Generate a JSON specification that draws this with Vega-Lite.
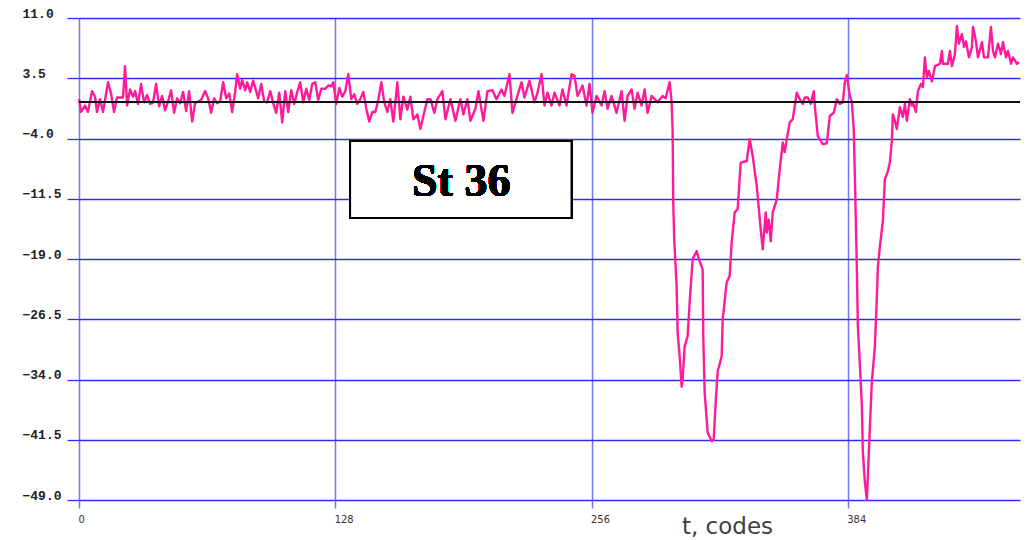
{
  "$schema": "https://vega.github.io/schema/vega-lite/v6.json",
  "width": 941,
  "height": 482,
  "autosize": {"type": "none"},
  "padding": {"left": 79, "top": 18, "right": 15, "bottom": 40},
  "background": "white",
  "config": {"view": {"stroke": null}},
  "data": {
    "values": [
      {"t": 0.0, "v": 0.9}, {"t": 1.0, "v": -0.7}, {"t": 3.0, "v": 0.1}, {"t": 4.5, "v": -0.7},
      {"t": 6.5, "v": 1.9}, {"t": 8.0, "v": 1.2}, {"t": 9.0, "v": -0.7}, {"t": 10.5, "v": 0.9},
      {"t": 12.0, "v": -0.7}, {"t": 14.5, "v": 3.0}, {"t": 16.0, "v": 1.6}, {"t": 17.5, "v": -0.7},
      {"t": 19.0, "v": 1.1}, {"t": 22.0, "v": 1.1}, {"t": 23.0, "v": 5.0}, {"t": 24.0, "v": 0.1},
      {"t": 25.5, "v": 2.1}, {"t": 27.0, "v": 1.2}, {"t": 28.0, "v": 1.9}, {"t": 29.5, "v": 0.3},
      {"t": 31.0, "v": 2.8}, {"t": 32.5, "v": 0.5}, {"t": 34.0, "v": 1.4}, {"t": 35.5, "v": 0.3},
      {"t": 37.0, "v": 0.5}, {"t": 38.5, "v": 2.8}, {"t": 40.0, "v": 0.0}, {"t": 41.5, "v": 1.3},
      {"t": 43.0, "v": -0.5}, {"t": 44.5, "v": 0.6}, {"t": 46.0, "v": 2.0}, {"t": 47.5, "v": -0.8},
      {"t": 49.0, "v": 1.0}, {"t": 50.5, "v": 0.4}, {"t": 52.0, "v": 1.8}, {"t": 53.5, "v": -0.6},
      {"t": 55.0, "v": 1.9}, {"t": 56.5, "v": -1.9}, {"t": 58.0, "v": 0.4}, {"t": 59.5, "v": 0.6},
      {"t": 61.0, "v": 0.8}, {"t": 63.0, "v": 1.9}, {"t": 64.5, "v": 1.0}, {"t": 66.0, "v": -0.8},
      {"t": 67.5, "v": 1.0}, {"t": 69.0, "v": 0.4}, {"t": 70.5, "v": 0.6}, {"t": 72.0, "v": 3.0},
      {"t": 73.5, "v": 1.0}, {"t": 75.0, "v": 1.6}, {"t": 76.5, "v": -0.7}, {"t": 78.0, "v": 1.8},
      {"t": 79.0, "v": 4.0}, {"t": 80.5, "v": 2.2}, {"t": 81.5, "v": 3.3}, {"t": 83.0, "v": 2.0},
      {"t": 84.0, "v": 3.0}, {"t": 85.5, "v": 1.8}, {"t": 87.0, "v": 3.2}, {"t": 89.5, "v": 1.0},
      {"t": 91.0, "v": 2.8}, {"t": 92.5, "v": 0.6}, {"t": 94.0, "v": 0.5}, {"t": 95.5, "v": 1.9},
      {"t": 97.0, "v": 0.4}, {"t": 98.5, "v": -0.8}, {"t": 100.0, "v": 1.7}, {"t": 101.5, "v": -2.0},
      {"t": 103.0, "v": 1.9}, {"t": 104.5, "v": -0.7}, {"t": 106.0, "v": 2.0}, {"t": 107.5, "v": 0.3},
      {"t": 109.0, "v": 1.8}, {"t": 110.5, "v": 3.0}, {"t": 112.0, "v": 0.5}, {"t": 113.5, "v": 2.2},
      {"t": 115.0, "v": 0.8}, {"t": 116.5, "v": 2.8}, {"t": 118.0, "v": 3.0}, {"t": 119.5, "v": 0.8},
      {"t": 121.0, "v": 2.2}, {"t": 123.0, "v": 2.2}, {"t": 124.5, "v": 2.6}, {"t": 126.0, "v": 2.5},
      {"t": 127.0, "v": 3.0}, {"t": 128.5, "v": 0.3}, {"t": 130.0, "v": 2.3}, {"t": 131.5, "v": 1.2},
      {"t": 133.0, "v": 1.9}, {"t": 134.5, "v": 4.0}, {"t": 136.0, "v": 0.9}, {"t": 137.5, "v": 1.5},
      {"t": 139.0, "v": 0.3}, {"t": 140.5, "v": 0.9}, {"t": 142.0, "v": 1.8}, {"t": 143.5, "v": -0.3},
      {"t": 145.0, "v": -1.9}, {"t": 146.5, "v": -0.7}, {"t": 148.0, "v": -0.7}, {"t": 149.5, "v": 0.8},
      {"t": 151.0, "v": 3.0}, {"t": 152.5, "v": 0.5}, {"t": 154.0, "v": -0.7}, {"t": 155.5, "v": 0.9},
      {"t": 157.0, "v": -1.9}, {"t": 159.0, "v": 3.0}, {"t": 160.5, "v": -1.6}, {"t": 162.0, "v": 1.2},
      {"t": 164.0, "v": -0.4}, {"t": 165.5, "v": 1.2}, {"t": 167.0, "v": -1.6}, {"t": 169.0, "v": -1.0},
      {"t": 170.5, "v": -2.8}, {"t": 172.0, "v": -1.2}, {"t": 174.0, "v": 0.9}, {"t": 175.5, "v": 0.9},
      {"t": 177.5, "v": -0.8}, {"t": 179.0, "v": 0.9}, {"t": 181.5, "v": 1.9}, {"t": 183.0, "v": -1.6},
      {"t": 185.5, "v": 0.9}, {"t": 188.0, "v": -1.8}, {"t": 190.5, "v": 0.9}, {"t": 192.0, "v": -1.0},
      {"t": 194.0, "v": 0.9}, {"t": 195.5, "v": -1.8}, {"t": 198.0, "v": -0.3}, {"t": 199.5, "v": 1.9},
      {"t": 202.0, "v": -1.8}, {"t": 204.0, "v": 1.9}, {"t": 206.5, "v": 2.0}, {"t": 208.5, "v": 0.9},
      {"t": 211.0, "v": 2.1}, {"t": 212.5, "v": 1.3}, {"t": 215.0, "v": 4.0}, {"t": 216.5, "v": -0.8},
      {"t": 218.5, "v": 0.9}, {"t": 221.0, "v": 3.0}, {"t": 222.5, "v": 1.1}, {"t": 225.0, "v": 3.2},
      {"t": 227.5, "v": 0.5}, {"t": 229.0, "v": 1.7}, {"t": 231.0, "v": 4.0}, {"t": 232.5, "v": 0.1},
      {"t": 234.0, "v": 1.7}, {"t": 236.0, "v": 0.1}, {"t": 237.5, "v": 1.7}, {"t": 240.0, "v": 0.1},
      {"t": 241.5, "v": 2.1}, {"t": 243.5, "v": 0.1}, {"t": 246.0, "v": 4.0}, {"t": 247.5, "v": 3.8},
      {"t": 249.0, "v": 1.3}, {"t": 251.5, "v": 2.6}, {"t": 253.5, "v": 0.1}, {"t": 255.0, "v": 2.8},
      {"t": 256.5, "v": -0.8}, {"t": 258.5, "v": 1.3}, {"t": 261.0, "v": 0.1}, {"t": 262.5, "v": 1.9},
      {"t": 264.0, "v": -0.3}, {"t": 266.0, "v": 1.3}, {"t": 268.5, "v": -0.8}, {"t": 271.0, "v": 1.9},
      {"t": 272.5, "v": -1.8}, {"t": 274.0, "v": 1.3}, {"t": 276.0, "v": 2.1}, {"t": 277.5, "v": -0.3},
      {"t": 279.0, "v": 1.7}, {"t": 281.0, "v": 0.1}, {"t": 282.5, "v": 2.1}, {"t": 284.0, "v": -0.8},
      {"t": 286.0, "v": 1.3}, {"t": 287.5, "v": 0.9}, {"t": 289.0, "v": 0.5}, {"t": 291.5, "v": 1.3},
      {"t": 293.0, "v": 1.0}, {"t": 295.0, "v": 3.0}, {"t": 296.0, "v": 0.5}, {"t": 296.5, "v": -3.1},
      {"t": 296.8, "v": -11.9}, {"t": 297.3, "v": -16.6}, {"t": 298.5, "v": -22.4}, {"t": 299.0, "v": -28.2},
      {"t": 300.0, "v": -31.1}, {"t": 301.0, "v": -34.9}, {"t": 301.5, "v": -34.0}, {"t": 302.5, "v": -29.9},
      {"t": 304.0, "v": -28.6}, {"t": 305.0, "v": -24.4}, {"t": 306.5, "v": -19.0}, {"t": 308.5, "v": -18.0},
      {"t": 310.0, "v": -19.3}, {"t": 311.5, "v": -20.3}, {"t": 311.8, "v": -28.6}, {"t": 312.5, "v": -35.6},
      {"t": 314.0, "v": -40.6}, {"t": 316.0, "v": -41.7}, {"t": 317.0, "v": -41.5}, {"t": 318.0, "v": -36.9},
      {"t": 319.0, "v": -33.0}, {"t": 321.0, "v": -31.1}, {"t": 321.5, "v": -26.5}, {"t": 323.5, "v": -21.9},
      {"t": 325.0, "v": -21.1}, {"t": 326.0, "v": -16.9}, {"t": 327.5, "v": -13.2}, {"t": 329.0, "v": -12.8},
      {"t": 330.5, "v": -7.0}, {"t": 333.5, "v": -6.8}, {"t": 335.0, "v": -4.1}, {"t": 336.5, "v": -6.2},
      {"t": 338.5, "v": -9.9}, {"t": 339.0, "v": -11.2}, {"t": 340.5, "v": -15.3}, {"t": 341.5, "v": -17.8},
      {"t": 342.0, "v": -16.2}, {"t": 343.0, "v": -13.2}, {"t": 343.5, "v": -15.7}, {"t": 344.5, "v": -14.1},
      {"t": 345.5, "v": -16.8}, {"t": 346.5, "v": -13.2}, {"t": 348.5, "v": -11.6}, {"t": 350.0, "v": -7.8},
      {"t": 351.5, "v": -4.5}, {"t": 352.5, "v": -5.7}, {"t": 353.5, "v": -4.1}, {"t": 355.0, "v": -2.0},
      {"t": 356.5, "v": -1.6}, {"t": 358.5, "v": 1.7}, {"t": 360.0, "v": 0.9}, {"t": 361.5, "v": 0.3},
      {"t": 362.5, "v": 1.1}, {"t": 364.0, "v": 1.1}, {"t": 365.5, "v": 0.3}, {"t": 367.0, "v": 1.9},
      {"t": 367.5, "v": 0.1}, {"t": 369.0, "v": -3.7}, {"t": 371.5, "v": -4.7}, {"t": 373.5, "v": -4.6},
      {"t": 375.0, "v": -1.2}, {"t": 377.0, "v": -0.8}, {"t": 378.5, "v": 0.9}, {"t": 380.0, "v": 0.3},
      {"t": 381.5, "v": 0.5}, {"t": 382.5, "v": 3.0}, {"t": 383.5, "v": 3.9}, {"t": 385.0, "v": 1.3},
      {"t": 386.0, "v": 0.6}, {"t": 387.0, "v": -3.1}, {"t": 387.5, "v": -8.5}, {"t": 388.5, "v": -20.0},
      {"t": 389.0, "v": -27.2}, {"t": 390.0, "v": -32.1}, {"t": 391.0, "v": -37.1}, {"t": 391.5, "v": -43.0},
      {"t": 392.5, "v": -46.7}, {"t": 393.5, "v": -49.0}, {"t": 394.0, "v": -46.2}, {"t": 395.0, "v": -40.0},
      {"t": 396.0, "v": -34.3}, {"t": 397.5, "v": -30.0}, {"t": 398.5, "v": -23.8}, {"t": 399.0, "v": -20.0},
      {"t": 400.0, "v": -17.5}, {"t": 401.5, "v": -14.3}, {"t": 402.5, "v": -9.1}, {"t": 404.0, "v": -8.1},
      {"t": 405.0, "v": -7.0}, {"t": 406.0, "v": -4.3}, {"t": 406.5, "v": -1.0}, {"t": 407.5, "v": -1.8},
      {"t": 408.5, "v": -2.8}, {"t": 410.0, "v": -0.1}, {"t": 411.5, "v": -1.3}, {"t": 412.5, "v": 0.3},
      {"t": 413.5, "v": -1.8}, {"t": 415.0, "v": 0.9}, {"t": 416.0, "v": 0.1}, {"t": 416.5, "v": 0.5},
      {"t": 418.0, "v": -0.7}, {"t": 419.0, "v": 1.9}, {"t": 420.5, "v": 2.8}, {"t": 421.5, "v": 2.4},
      {"t": 422.5, "v": 6.1}, {"t": 423.5, "v": 3.6}, {"t": 424.5, "v": 4.4}, {"t": 426.0, "v": 3.1},
      {"t": 427.5, "v": 5.0}, {"t": 430.0, "v": 5.3}, {"t": 431.0, "v": 6.9}, {"t": 431.5, "v": 5.3},
      {"t": 434.0, "v": 5.3}, {"t": 435.0, "v": 6.9}, {"t": 436.0, "v": 5.0}, {"t": 437.5, "v": 6.5},
      {"t": 438.5, "v": 10.0}, {"t": 439.5, "v": 7.8}, {"t": 441.0, "v": 9.0}, {"t": 442.0, "v": 7.4},
      {"t": 443.0, "v": 8.1}, {"t": 444.5, "v": 6.1}, {"t": 446.0, "v": 7.4}, {"t": 446.5, "v": 9.9},
      {"t": 448.0, "v": 8.1}, {"t": 449.0, "v": 6.1}, {"t": 451.0, "v": 8.0}, {"t": 452.0, "v": 6.1},
      {"t": 454.0, "v": 6.1}, {"t": 455.5, "v": 9.9}, {"t": 456.5, "v": 6.9}, {"t": 457.5, "v": 6.1},
      {"t": 459.0, "v": 7.8}, {"t": 460.5, "v": 6.5}, {"t": 461.5, "v": 8.0}, {"t": 463.0, "v": 6.1},
      {"t": 464.0, "v": 6.9}, {"t": 465.5, "v": 5.3}, {"t": 466.5, "v": 6.1}, {"t": 468.5, "v": 5.3},
      {"t": 469.5, "v": 5.5}
    ]
  },
  "encoding": {
    "x": {
      "field": "t",
      "type": "quantitative",
      "scale": {"domain": [0, 470], "nice": false, "zero": false},
      "axis": {
        "values": [0, 128, 256, 384],
        "domain": false,
        "grid": true,
        "gridColor": "#7474f8",
        "gridWidth": 1.5,
        "tickColor": "#7474f8",
        "tickWidth": 1.5,
        "tickSize": 8,
        "labelAlign": "left",
        "labelOffset": -1,
        "labelPadding": 5,
        "labelFlush": false,
        "labelOverlap": false,
        "labelFont": "Liberation Sans Narrow, DejaVu Sans Condensed, Liberation Sans",
        "labelFontSize": 11,
        "labelColor": "#333333",
        "title": "t, codes",
        "titleFont": "DejaVu Sans",
        "titleFontSize": 23,
        "titleFontWeight": "normal",
        "titleColor": "#404040",
        "titleX": 648,
        "titleY": 33,
        "titleAlign": "center",
        "titleBaseline": "alphabetic"
      }
    },
    "y": {
      "field": "v",
      "type": "quantitative",
      "scale": {"domain": [-49, 11], "nice": false, "zero": false},
      "axis": {
        "values": [11, 3.5, -4, -11.5, -19, -26.5, -34, -41.5, -49],
        "format": ".1f",
        "domain": false,
        "grid": true,
        "gridColor": "#2e2ef2",
        "gridWidth": 1.3,
        "tickColor": "#2e2ef2",
        "tickWidth": 1.3,
        "tickSize": 12,
        "labelAlign": "left",
        "labelBaseline": "alphabetic",
        "labelOffset": -1,
        "labelPadding": 45,
        "labelOverlap": false,
        "labelFont": "Liberation Mono",
        "labelFontWeight": "bold",
        "labelFontSize": 13,
        "labelColor": "#222222",
        "title": null
      }
    }
  },
  "layer": [
    {
      "mark": {"type": "line", "color": "#ff1a9c", "strokeWidth": 2.4, "strokeJoin": "round"}
    },
    {
      "mark": {"type": "rule", "color": "#111111", "strokeWidth": 1.2},
      "encoding": {"x": {"value": 0}, "x2": {"value": 941}, "y": {"datum": 0.5}}
    },
    {
      "mark": {"type": "rect", "fill": "white", "stroke": "black", "strokeWidth": 2},
      "encoding": {
        "x": {"datum": 135.4},
        "x2": {"datum": 246},
        "y": {"datum": -4.3},
        "y2": {"datum": -13.9}
      }
    },
    {
      "mark": {
        "type": "text",
        "text": "St 36",
        "font": "Liberation Serif",
        "fontWeight": "bold",
        "fontSize": 46,
        "align": "center",
        "baseline": "alphabetic",
        "color": "black"
      },
      "encoding": {"x": {"datum": 190.9}, "y": {"datum": -11.2}}
    }
  ]
}
